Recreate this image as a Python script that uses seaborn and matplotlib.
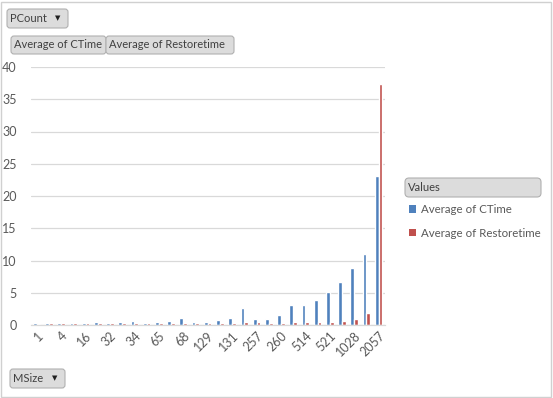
import matplotlib
matplotlib.use("Agg")
import matplotlib.pyplot as plt
import seaborn as sns
import pandas as pd
from matplotlib.patches import FancyBboxPatch, Rectangle, Patch

msize = ["1", "2", "4", "8", "16", "17", "32", "33", "34", "64", "65", "66", "68",
         "128", "129", "130", "131", "256", "257", "258", "260", "512", "514", "520",
         "521", "1024", "1028", "2056", "2057"]
ctime = [0.3, 0.3, 0.3, 0.3, 0.3, 0.5, 0.3, 0.5, 0.6, 0.3, 0.5, 0.6, 1.1, 0.5, 0.4,
         0.7, 1.1, 2.7, 0.9, 1.0, 1.6, 3.1, 3.1, 3.8, 5.1, 6.6, 8.9, 11.0, 23.1]
restore = [0.2, 0.3, 0.3, 0.3, 0.3, 0.3, 0.3, 0.3, 0.3, 0.3, 0.3, 0.3, 0.3, 0.3, 0.3,
           0.3, 0.3, 0.5, 0.4, 0.3, 0.3, 0.5, 0.4, 0.4, 0.4, 0.6, 1.0, 1.9, 37.4]
series = ["Average of CTime", "Average of Restoretime"]
colors = ["#4F81BD", "#C0504D"]

df = pd.DataFrame({
    "MSize": msize * 2,
    "Value": ctime + restore,
    "Series": [series[0]] * len(msize) + [series[1]] * len(msize),
})

sns.set_theme(style="white")
plt.rcParams["font.family"] = ["Lato", "DejaVu Sans"]

W, H = 553, 398
fig = plt.figure(figsize=(W / 100, H / 100), dpi=100)
ax = fig.add_axes([30.6 / W, 1 - 325 / H, 354.2 / W, 258 / H])

sns.barplot(data=df, x="MSize", y="Value", hue="Series", order=msize,
            hue_order=series, palette=colors, width=0.62, ax=ax,
            legend=False, saturation=1, errorbar=None)

ax.set_xlim(-0.5, len(msize) - 0.5)
ax.set_ylim(0, 40)
ax.set_yticks(range(0, 41, 5))
ax.yaxis.grid(True, color="#D9D9D9", linewidth=0.9)
ax.set_axisbelow(True)
for s in ["top", "right", "left"]:
    ax.spines[s].set_visible(False)
ax.spines["bottom"].set_color("#D9D9D9")
ax.spines["bottom"].set_linewidth(0.9)
ax.set_xlabel("")
ax.set_ylabel("")
ax.tick_params(axis="both", length=0, colors="#595959", labelsize=9)
ax.tick_params(axis="y", pad=10)
labels = [m if i % 2 == 0 else "" for i, m in enumerate(msize)]
ax.set_xticks(range(len(msize)))
ax.set_xticklabels(labels, rotation=45, ha="right", va="top",
                   rotation_mode="anchor", color="#595959", fontsize=9)

# legend
handles = [Patch(facecolor=c, edgecolor="none") for c in colors]
fig.legend(handles, series, loc="upper left",
           bbox_to_anchor=(409 / W, 1 - 204 / H), frameon=False,
           handlelength=0.6, handleheight=0.6, handletextpad=0.45,
           labelspacing=1.1, fontsize=8.3, labelcolor="#595959",
           borderaxespad=0, borderpad=0)

# figure border
fig.add_artist(Rectangle((1 / W, 1 / H), 550 / W, 395 / H, transform=fig.transFigure,
                         facecolor="none", edgecolor="#D0D0D0", linewidth=1))


def button(x0, y0, x1, y1, text, arrow=False, rounding=3):
    bw, bh = (x1 - x0) / W, (y1 - y0) / H
    patch = FancyBboxPatch((x0 / W, 1 - y1 / H), bw, bh,
                           boxstyle=f"round,pad=0,rounding_size={rounding / W}",
                           transform=fig.transFigure, facecolor="#DCDCDC",
                           edgecolor="#B0B0B0", linewidth=0.8,
                           mutation_aspect=W / H)
    fig.add_artist(patch)
    fig.text((x0 + 3) / W, 1 - (y0 + y1) / 2 / H, text, ha="left", va="center",
             fontsize=8, color="#404040")
    if arrow:
        fig.text((x1 - 10) / W, 1 - (y0 + y1) / 2 / H, "▼", ha="center",
                 va="center", fontsize=5, color="#202020",
                 family=["DejaVu Sans"])


button(7, 9, 68, 28, "PCount", arrow=True)
button(11, 36, 106, 54, "Average of CTime")
button(106, 36, 234, 54, "Average of Restoretime")
button(10, 369, 65, 388, "MSize", arrow=True)
button(405, 178, 541, 197, "Values", rounding=4)

fig.savefig("out.png", dpi=100)
